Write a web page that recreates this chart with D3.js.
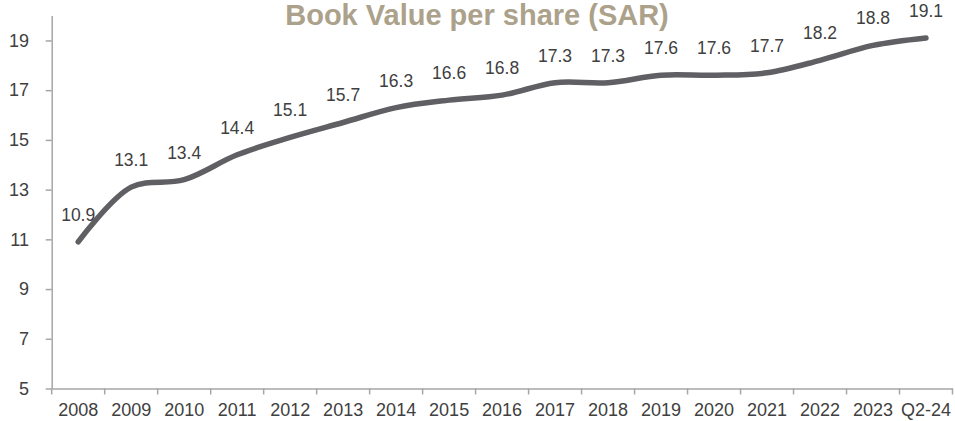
<!DOCTYPE html>
<html>
<head>
<meta charset="utf-8">
<script src="https://cdn.jsdelivr.net/npm/d3@7/dist/d3.min.js"></script>
<style>
  html, body { margin: 0; padding: 0; background: #fff; overflow: hidden; }
  svg { display: block; font-family: "Liberation Sans", Arial, sans-serif; }
</style>
</head>
<body>
<svg id="chart" width="955" height="421"></svg>
<script>
const title = "Book Value per share (SAR)";
const categories = ["2008","2009","2010","2011","2012","2013","2014","2015","2016","2017","2018","2019","2020","2021","2022","2023","Q2-24"];
const values = [10.9,13.1,13.4,14.4,15.1,15.7,16.3,16.6,16.8,17.3,17.3,17.6,17.6,17.7,18.2,18.8,19.1];
const yTicks = [5,7,9,11,13,15,17,19];
const yDomain = [5,20];

(function () {
const svg = d3.select("#chart");
const mLeft = 51.7, mRight = 952.5, mTop = 15.6, mBottom = 388.5;

const x = d3.scaleBand().domain(categories).range([mLeft, mRight]).padding(0);
const y = d3.scaleLinear().domain(yDomain).range([mBottom, mTop]);

const axisColor = "#a6a6a6";
const textColor = "#404040";

// Y axis
const yAxis = svg.append("g")
  .attr("transform", `translate(${mLeft},0)`)
  .call(d3.axisLeft(y).tickValues(yTicks).tickSize(6).tickSizeOuter(0).tickPadding(16.7).tickFormat(d3.format("d")));
yAxis.select(".domain").attr("stroke", axisColor).attr("stroke-width", 1.5);
yAxis.selectAll(".tick line").attr("stroke", axisColor).attr("stroke-width", 1.5);
yAxis.selectAll(".tick text").attr("fill", textColor).style("font-size", "18px").style("font-family", "Liberation Sans, Arial, sans-serif");

// X axis
const xAxis = svg.append("g")
  .attr("transform", `translate(0,${mBottom})`)
  .call(d3.axisBottom(x).tickSize(0).tickSizeOuter(0).tickPadding(14.5));
xAxis.select(".domain").attr("stroke", axisColor).attr("stroke-width", 1.5);
xAxis.selectAll(".tick text").attr("fill", textColor).style("font-size", "18px").style("font-family", "Liberation Sans, Arial, sans-serif");
const bounds = categories.map(c => x(c)).concat([x(categories[categories.length-1]) + x.bandwidth()]);
xAxis.selectAll("line.bound").data(bounds).enter().append("line")
  .attr("class","bound")
  .attr("x1", d => d).attr("x2", d => d)
  .attr("y1", 0).attr("y2", 6)
  .attr("stroke", axisColor).attr("stroke-width", 1.5);

// Line
const cx = d => x(d) + x.bandwidth()/2;
const line = d3.line()
  .x((d,i) => cx(categories[i]))
  .y(d => y(d))
  .curve(d3.curveCatmullRom.alpha(0.5));
svg.append("path")
  .datum(values)
  .attr("d", line)
  .attr("fill", "none")
  .attr("stroke", "#5f5f64")
  .attr("stroke-width", 5.5)
  .attr("stroke-linecap", "round")
  .attr("stroke-linejoin", "round");

// Data labels
svg.append("g").selectAll("text").data(values).enter().append("text")
  .attr("x", (d,i) => cx(categories[i]))
  .attr("y", d => y(d) - 21)
  .attr("text-anchor", "middle")
  .attr("fill", textColor)
  .style("font-size", "17.5px")
  .text(d => d3.format(".1f")(d));

// Title
svg.append("text")
  .attr("x", 477)
  .attr("y", 25)
  .attr("text-anchor", "middle")
  .attr("fill", "#aca18a")
  .style("font-size", "29px")
  .style("font-weight", "bold")
  .text(title);
})();
</script>
</body>
</html>
